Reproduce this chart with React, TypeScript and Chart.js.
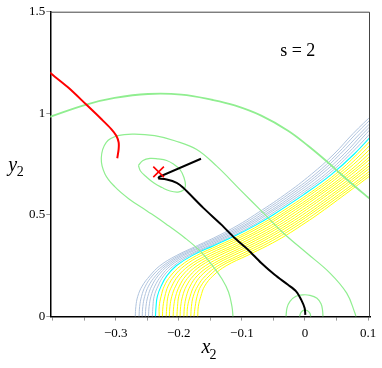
import { useEffect, useRef } from "react";
import { Chart, registerables } from "chart.js";

Chart.register(...registerables);

const FONT = '"Times New Roman", "Liberation Serif", serif';

// ---- axes ----
const X_MIN = -0.4036;
const X_MAX = 0.103;
const Y_MIN = 0;
const Y_MAX = 1.5;
const X_TICKS = [-0.4, -0.35, -0.3, -0.25, -0.2, -0.15, -0.1, -0.05, 0, 0.05, 0.1];
const X_TICK_LABELS = ["", "", "\u22120.3", "", "\u22120.2", "", "\u22120.1", "", "0", "", "0.1"];
const Y_TICKS = [0, 0.5, 1, 1.5];
const Y_TICK_LABELS = ["0", "0.5", "1", "1.5"];

// ---- contour band (x of each contour at shared y levels) ----
const BAND_Y = [0, 0.05, 0.1, 0.15, 0.2, 0.25, 0.3, 0.35, 0.4, 0.45, 0.5, 0.6, 0.7, 0.8, 0.9, 1.0];

const BLUE_CONTOURS_X = [
  [-0.269, -0.268, -0.265, -0.258, -0.246, -0.230, -0.204, -0.170, -0.136, -0.106, -0.080, -0.032, 0.010, 0.046, 0.076, 0.109],
  [-0.263, -0.262, -0.259, -0.253, -0.242, -0.225, -0.200, -0.166, -0.131, -0.101, -0.075, -0.027, 0.016, 0.051, 0.081, 0.114],
  [-0.258, -0.257, -0.254, -0.248, -0.237, -0.221, -0.196, -0.161, -0.127, -0.096, -0.070, -0.022, 0.021, 0.056, 0.087, 0.119],
  [-0.253, -0.252, -0.249, -0.243, -0.233, -0.217, -0.192, -0.157, -0.122, -0.092, -0.065, -0.017, 0.026, 0.062, 0.092, 0.124],
  [-0.248, -0.247, -0.244, -0.238, -0.228, -0.213, -0.187, -0.152, -0.118, -0.087, -0.061, -0.012, 0.032, 0.067, 0.097, 0.128],
  [-0.242, -0.241, -0.239, -0.233, -0.224, -0.208, -0.183, -0.148, -0.113, -0.082, -0.056, -0.007, 0.037, 0.072, 0.103, 0.132],
];

const CYAN_CONTOUR_X = [-0.237, -0.236, -0.234, -0.228, -0.219, -0.204, -0.179, -0.144, -0.109, -0.078, -0.051, -0.002, 0.042, 0.078, 0.108, 0.135];

const YELLOW_CONTOURS_X = [
  [-0.231, -0.231, -0.228, -0.223, -0.213, -0.197, -0.172, -0.137, -0.102, -0.072, -0.045, 0.004, 0.048, 0.083, 0.114, 0.141],
  [-0.226, -0.225, -0.222, -0.217, -0.207, -0.191, -0.165, -0.130, -0.096, -0.066, -0.039, 0.009, 0.053, 0.089, 0.120, 0.148],
  [-0.220, -0.219, -0.217, -0.211, -0.201, -0.184, -0.157, -0.123, -0.089, -0.060, -0.034, 0.015, 0.058, 0.095, 0.127, 0.155],
  [-0.215, -0.214, -0.211, -0.205, -0.195, -0.178, -0.150, -0.115, -0.083, -0.053, -0.028, 0.020, 0.064, 0.101, 0.133, 0.161],
  [-0.209, -0.208, -0.205, -0.199, -0.189, -0.171, -0.143, -0.108, -0.076, -0.047, -0.022, 0.025, 0.069, 0.107, 0.139, 0.168],
  [-0.203, -0.202, -0.200, -0.194, -0.183, -0.165, -0.136, -0.101, -0.069, -0.041, -0.016, 0.031, 0.074, 0.112, 0.145, 0.174],
  [-0.198, -0.197, -0.194, -0.188, -0.177, -0.158, -0.128, -0.094, -0.063, -0.035, -0.010, 0.036, 0.080, 0.118, 0.151, 0.181],
  [-0.192, -0.191, -0.188, -0.182, -0.171, -0.151, -0.121, -0.087, -0.056, -0.029, -0.004, 0.042, 0.085, 0.124, 0.158, 0.188],
  [-0.187, -0.186, -0.182, -0.176, -0.165, -0.145, -0.114, -0.080, -0.050, -0.023, 0.002, 0.047, 0.090, 0.130, 0.164, 0.194],
  [-0.181, -0.180, -0.177, -0.170, -0.158, -0.138, -0.106, -0.073, -0.043, -0.017, 0.007, 0.053, 0.096, 0.136, 0.170, 0.201],
  [-0.176, -0.174, -0.171, -0.165, -0.152, -0.132, -0.099, -0.066, -0.037, -0.011, 0.013, 0.058, 0.101, 0.142, 0.176, 0.207],
  [-0.170, -0.169, -0.165, -0.159, -0.146, -0.125, -0.092, -0.059, -0.030, -0.005, 0.019, 0.063, 0.106, 0.147, 0.182, 0.214],
];

// ---- green contours ----
const GREEN_ARC_X = [-0.404, -0.3466, -0.3016, -0.2488, -0.196, -0.1458, -0.1114, -0.0693, -0.0269, 0.0048, 0.0365, 0.0575, 0.0788, 0.1003, 0.1062];
const GREEN_ARC_Y = [0.983, 1.043, 1.0755, 1.095, 1.092, 1.0656, 1.039, 0.9887, 0.9146, 0.8406, 0.7583, 0.699, 0.6413, 0.586, 0.5714];

const GREEN_LOOP_X = [-0.1141, -0.1157, -0.1212, -0.1315, -0.1474, -0.1664, -0.1902, -0.2203, -0.2504, -0.2789, -0.3011, -0.317, -0.3228, -0.3149, -0.2964, -0.2699, -0.2382, -0.2065, -0.1716, -0.1399, -0.103, -0.0661, -0.0344, 0.0027, 0.0396, 0.0661, 0.0792, 0.0808];
const GREEN_LOOP_Y = [0, 0.0487, 0.121, 0.185, 0.254, 0.323, 0.387, 0.456, 0.52, 0.579, 0.638, 0.702, 0.78, 0.8569, 0.89, 0.8979, 0.89, 0.8653, 0.8224, 0.74, 0.625, 0.5101, 0.4114, 0.3128, 0.2141, 0.1154, 0.0168, 0];

const GREEN_ELLIPSE_X = [-0.2639, -0.2567, -0.2456, -0.233, -0.2192, -0.2076, -0.1981, -0.1918, -0.1894, -0.1926, -0.2013, -0.2139, -0.2266, -0.2393, -0.252, -0.2607, -0.2639];
const GREEN_ELLIPSE_Y = [0.7435, 0.7681, 0.778, 0.7755, 0.7681, 0.7484, 0.7237, 0.6842, 0.6448, 0.6226, 0.6127, 0.6177, 0.6349, 0.6571, 0.6892, 0.7163, 0.7435];

const GREEN_ORIGIN_OUTER_X = [-0.0301, -0.0285, -0.0238, -0.0143, -0.0032, 0.0079, 0.019, 0.0254, 0.0277, 0.0285];
const GREEN_ORIGIN_OUTER_Y = [0, 0.0429, 0.075, 0.0997, 0.1071, 0.1046, 0.0898, 0.0627, 0.0331, 0];

const GREEN_ORIGIN_INNER_X = [-0.0087, -0.0063, -0.0016, 0.004, 0.0079, 0.009];
const GREEN_ORIGIN_INNER_Y = [0, 0.0207, 0.0316, 0.0291, 0.0158, 0];

// ---- trajectories ----
const RED_X = [-0.406, -0.3756, -0.3466, -0.3228, -0.307, -0.299, -0.2953, -0.2953, -0.2975];
const RED_Y = [1.204, 1.128, 1.043, 0.972, 0.9225, 0.89, 0.857, 0.824, 0.779];

const BLACK_TAIL_X = [-0.1648, -0.2309, -0.2325];
const BLACK_TAIL_Y = [0.7765, 0.6877, 0.6793];
const BLACK_PATH_X = [-0.2325, -0.2192, -0.2033, -0.1929, -0.1612, -0.1326, -0.1114, -0.0903, -0.0693, -0.048, -0.0269, -0.0138, -0.0059, -0.0005, 0.0005];
const BLACK_PATH_Y = [0.6793, 0.6744, 0.6581, 0.6334, 0.5348, 0.4524, 0.3868, 0.3291, 0.2634, 0.2057, 0.1564, 0.1233, 0.0824, 0.0414, 0.0084];

const MARKER_X = [-0.232];
const MARKER_Y = [0.712];

const ANNOTATION = "s = 2";
const ANNOT_X = -0.0393;
const ANNOT_Y = 1.2825;

const GREEN = "#90EE90";
const BLUE = "#B0C4DE";
const CYAN = "#00FFFF";
const YELLOW = "#FFFF00";

const pts = (xs: number[], ys: number[]) => xs.map((x, i) => ({ x, y: ys[i] }));
const line = (data: any[], color: string, width: number, tension = 0.4) => ({
  data,
  borderColor: color,
  backgroundColor: color,
  borderWidth: width,
  showLine: true,
  pointRadius: 0,
  pointHoverRadius: 0,
  tension,
  fill: false,
  clip: 0,
});

const overlayPlugin = {
  id: "overlay",
  afterDraw(chart: any) {
    const { ctx, chartArea: a } = chart;
    ctx.save();
    ctx.strokeStyle = "#444";
    ctx.lineWidth = 1;
    ctx.beginPath();
    ctx.moveTo(a.left, a.top + 0.5);
    ctx.lineTo(a.right - 0.5, a.top + 0.5);
    ctx.lineTo(a.right - 0.5, a.bottom);
    ctx.stroke();

    ctx.fillStyle = "#000";
    ctx.textAlign = "left";
    ctx.textBaseline = "alphabetic";
    const xs = chart.scales.x;
    const ys = chart.scales.y;
    ctx.font = `18px ${FONT}`;
    ctx.fillText(ANNOTATION, xs.getPixelForValue(ANNOT_X), ys.getPixelForValue(ANNOT_Y));

    // x axis title: x with subscript 2
    ctx.font = `italic 20px ${FONT}`;
    ctx.fillText("x", a.left + 151.2, a.bottom + 36.7);
    ctx.font = `14px ${FONT}`;
    ctx.fillText("2", a.left + 159.2, a.bottom + 42.7);

    // y axis title: y with subscript 2
    ctx.font = `italic 20px ${FONT}`;
    ctx.fillText("y", 8.3, ys.getPixelForValue(0.72) + 0.5);
    ctx.font = `14px ${FONT}`;
    ctx.fillText("2", 16.8, ys.getPixelForValue(0.72) + 5.5);
    ctx.restore();
  },
};

export default function App() {
  const ref = useRef<HTMLCanvasElement>(null);

  useEffect(() => {
    if (!ref.current) return;
    Chart.defaults.font.family = FONT;

    const datasets: any[] = [];
    datasets.push({
      data: pts(MARKER_X, MARKER_Y),
      showLine: false,
      pointStyle: "crossRot",
      pointRadius: 7.5,
      pointHoverRadius: 7.5,
      borderColor: "#FF0000",
      backgroundColor: "#FF0000",
      borderWidth: 1.6,
    });
    datasets.push(line(pts(BLACK_TAIL_X, BLACK_TAIL_Y), "#000000", 2, 0));
    datasets.push(line(pts(BLACK_PATH_X, BLACK_PATH_Y), "#000000", 2, 0.3));
    datasets.push(line(pts(RED_X, RED_Y), "#FF0000", 2, 0.3));
    datasets.push(line(pts(GREEN_ARC_X, GREEN_ARC_Y), GREEN, 1.8));
    datasets.push(line(pts(GREEN_LOOP_X, GREEN_LOOP_Y), GREEN, 1.2));
    datasets.push(line(pts(GREEN_ELLIPSE_X, GREEN_ELLIPSE_Y), GREEN, 1.2));
    datasets.push(line(pts(GREEN_ORIGIN_OUTER_X, GREEN_ORIGIN_OUTER_Y), GREEN, 1.2));
    datasets.push(line(pts(GREEN_ORIGIN_INNER_X, GREEN_ORIGIN_INNER_Y), GREEN, 1.2));
    datasets.push(line(pts(CYAN_CONTOUR_X, BAND_Y), CYAN, 1.1));
    BLUE_CONTOURS_X.forEach((xs) => datasets.push(line(pts(xs, BAND_Y), BLUE, 1)));
    YELLOW_CONTOURS_X.forEach((xs) => datasets.push(line(pts(xs, BAND_Y), YELLOW, 1)));

    const chart = new Chart(ref.current, {
      type: "scatter",
      data: { datasets },
      options: {
        animation: false,
        responsive: false,
        events: [],
        layout: { padding: { left: 0, right: 12, top: 11.7, bottom: 0 } },
        plugins: { legend: { display: false }, tooltip: { enabled: false } },
        scales: {
          x: {
            type: "linear",
            min: X_MIN,
            max: X_MAX,
            afterBuildTicks: (s: any) => {
              s.ticks = X_TICKS.map((v) => ({ value: v }));
            },
            afterFit: (s: any) => {
              s.height = 51.4;
              s.paddingLeft = 0;
              s.paddingRight = 0;
            },
            grid: { display: true, drawOnChartArea: false, drawTicks: true, tickLength: 4, tickColor: "#999", tickWidth: 1 },
            border: { display: true, color: "#000", width: 1.5 },
            ticks: {
              autoSkip: false,
              maxRotation: 0,
              padding: 5,
              color: "#000",
              font: { size: 13, family: FONT },
              callback: (_v: any, i: number) => X_TICK_LABELS[i],
            },
          },
          y: {
            type: "linear",
            min: Y_MIN,
            max: Y_MAX,
            afterBuildTicks: (s: any) => {
              s.ticks = Y_TICKS.map((v) => ({ value: v }));
            },
            afterFit: (s: any) => {
              s.width = 50.3;
              s.paddingTop = 0;
              s.paddingBottom = 0;
            },
            grid: { display: true, drawOnChartArea: false, drawTicks: true, tickLength: 4, tickColor: "#999", tickWidth: 1 },
            border: { display: true, color: "#000", width: 1.5 },
            ticks: {
              autoSkip: false,
              padding: 1,
              color: "#000",
              font: { size: 13, family: FONT },
              callback: (_v: any, i: number) => Y_TICK_LABELS[i],
            },
          },
        },
      },
      plugins: [overlayPlugin],
    } as any);

    return () => chart.destroy();
  }, []);

  return (
    <div style={{ position: "absolute", left: 0, top: 0, width: 382, height: 368 }}>
      <canvas ref={ref} width={382} height={368} style={{ display: "block", width: 382, height: 368 }} />
    </div>
  );
}
